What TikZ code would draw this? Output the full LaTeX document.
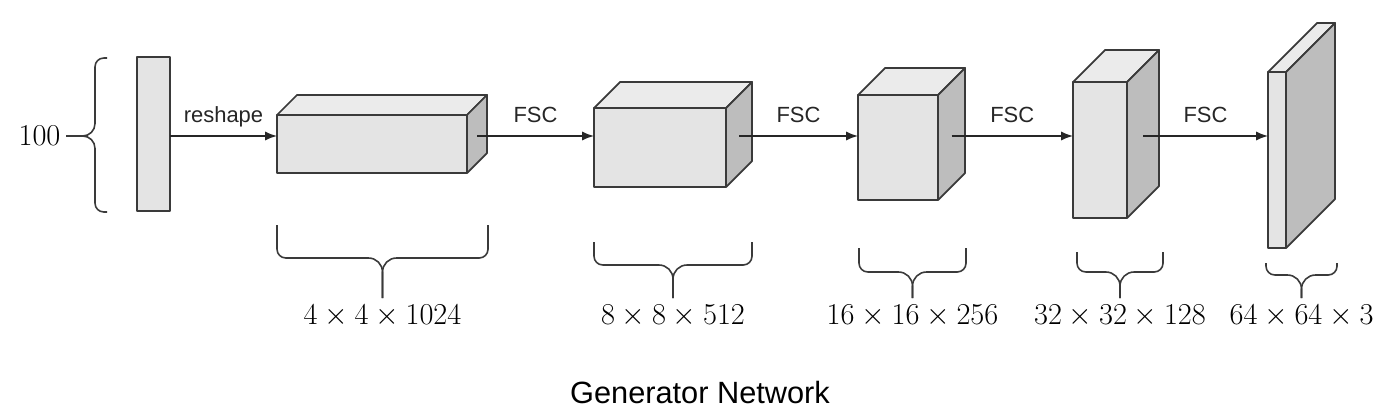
\documentclass[tikz,border=0pt]{standalone}
\usepackage{fontspec}
\setsansfont{Liberation Sans}
\usetikzlibrary{calc}
\definecolor{edgegray}{HTML}{3A3A3A}
\definecolor{frontgray}{HTML}{E4E4E4}
\definecolor{topgray}{HTML}{EBEBEB}
\definecolor{sidegray}{HTML}{BDBDBD}
\tikzset{
  face/.style={draw=edgegray, line width=1pt, line join=round},
  front/.style={face, fill=frontgray},
  top/.style={face, fill=topgray},
  side/.style={face, fill=sidegray},
  flow/.style={-latex, line width=1.3pt, black!85},
  opname/.style={font=\sffamily\fontsize{12.5}{14}\selectfont, anchor=base, yshift=7.8pt},
  dimlabel/.style={font=\fontsize{17}{20}\selectfont, anchor=base},
  brc/.style={draw=edgegray, line width=0.9pt, rounded corners=5pt}
}
\begin{document}
\begin{tikzpicture}[x=0.02cm,y=-0.02cm]
\useasboundingbox (0,0) rectangle (1392,412);

% input vector
\draw[front] (137,57) rectangle (170,211);
\coordinate (Xout) at (170,136);
\coordinate (Xtip) at (86,136);
\draw[brc] (107,58) -- (95,58) [rounded corners=7pt] -- (95,136) -- (Xtip);
\draw[brc] (107,212) -- (95,212) [rounded corners=7pt] -- (95,136) -- (Xtip);
\node[font=\fontsize{17}{20}\selectfont, inner sep=3pt, anchor=east] (N100) at (66,136) {$100$};
\draw[edgegray, line width=0.9pt] (Xtip) -- (N100);

% feature maps: number/left/top/right/bottom/depth
\foreach \n/\l/\t/\r/\b/\d in {1/277/115/467/173/20, 2/594/108/726/187/26,
  3/858/95/938/200/27, 4/1073/82/1127/218/32, 5/1268/72/1286/248/49}
{
\draw[top] (\l,\t) -- ++(\d,-\d) -- ++(\r-\l,0) -- (\r,\t) -- cycle;
\draw[side] (\r,\t) -- ++(\d,-\d) -- ++(0,\b-\t) -- (\r,\b) -- cycle;
\draw[front] (\l,\t) rectangle (\r,\b);
\coordinate (B\n in) at (\l,136);
\coordinate (B\n out) at (\r+\d/2,136);
}

% arrows
\draw[flow] (Xout) -- (B1in) node[midway, opname] {reshape};
\foreach \a/\b in {1/2,2/3,3/4,4/5}
{
\draw[flow] (B\a out) -- (B\b in) node[midway, opname] {FSC};
}

% size braces: number/left/right/top/bar/text
\foreach \n/\l/\r/\t/\h/\s in {1/277/488/225/258/{4\times4\times1024},
  2/594/752/242/265/{8\times8\times512}, 3/859/966/248/272/{16\times16\times256},
  4/1077/1163/252/272/{32\times32\times128}, 5/1266/1337/263/275/{64\times64\times3}}
{
\coordinate (T\n) at ({(\l+\r)/2},298);
\draw[brc] (\l,\t) -- (\l,\h) [rounded corners=8pt] -- ({(\l+\r)/2},\h) -- (T\n);
\draw[brc] (\r,\t) -- (\r,\h) [rounded corners=8pt] -- ({(\l+\r)/2},\h) -- (T\n);
\node[dimlabel] (L\n) at ({(\l+\r)/2},324) {$\s$};
}

\node[font=\sffamily\fontsize{17.5}{20}\selectfont, anchor=base] (title) at (700,403) {Generator Network};

\end{tikzpicture}
\end{document}
